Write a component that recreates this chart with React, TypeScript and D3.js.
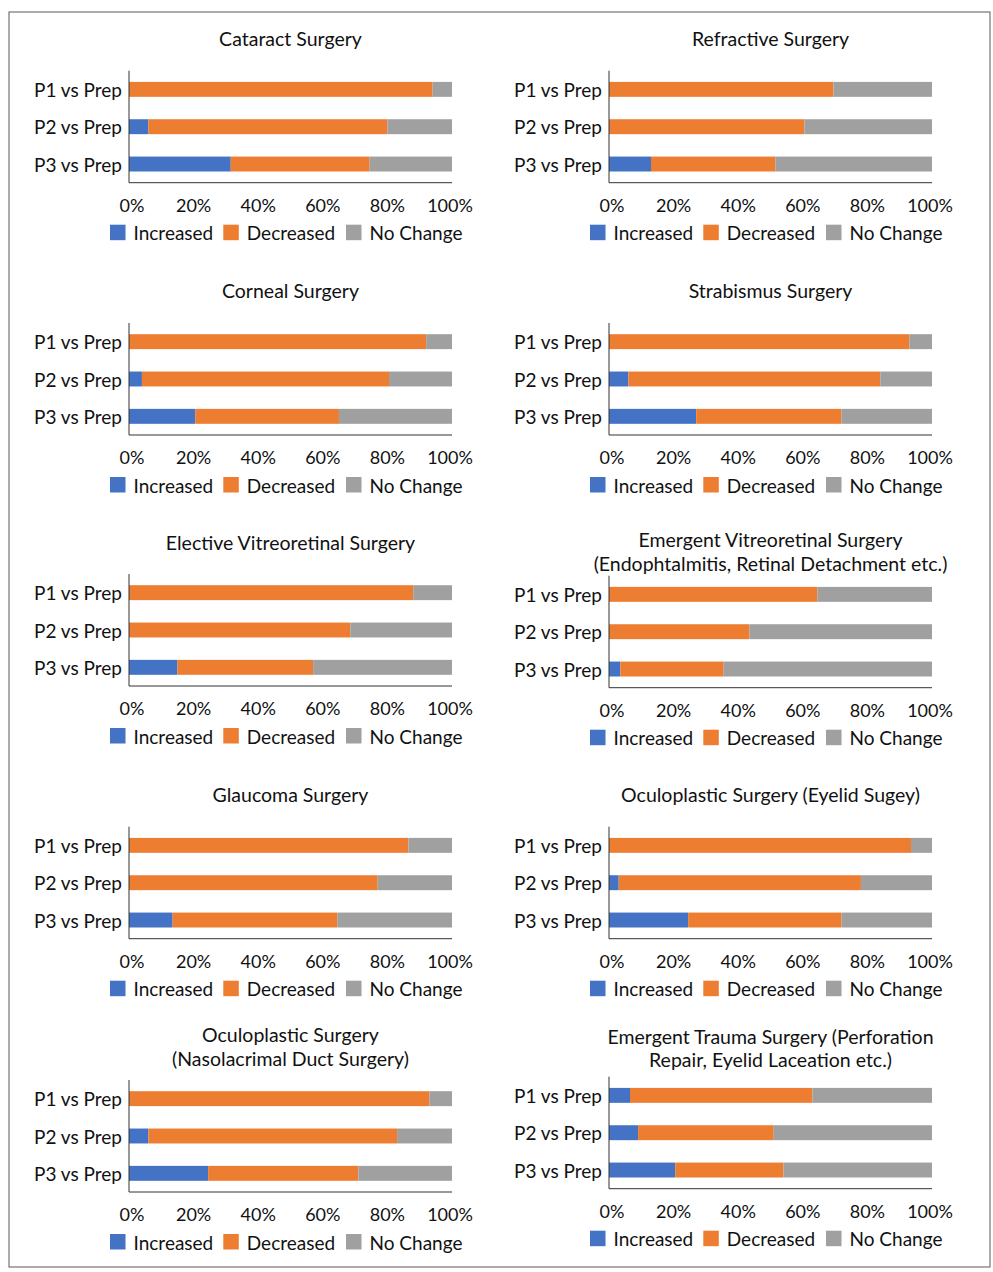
import * as d3 from 'd3';
import { useEffect, useRef } from 'react';

const categories = ['P1 vs Prep', 'P2 vs Prep', 'P3 vs Prep'];
const seriesNames = ['Increased', 'Decreased', 'No Change'];
const tickValues = [0, 20, 40, 60, 80, 100];

const panelTitles = [
  ['Cataract Surgery'],
  ['Refractive Surgery'],
  ['Corneal Surgery'],
  ['Strabismus Surgery'],
  ['Elective Vitreoretinal Surgery'],
  ['Emergent Vitreoretinal Surgery', '(Endophtalmitis, Retinal Detachment etc.)'],
  ['Glaucoma Surgery'],
  ['Oculoplastic Surgery (Eyelid Sugey)'],
  ['Oculoplastic Surgery', '(Nasolacrimal Duct Surgery)'],
  ['Emergent Trauma Surgery (Perforation', 'Repair, Eyelid Laceation etc.)'],
];

// percentages per panel, one entry per category (P1, P2, P3)
const increased = [
  [0, 6, 31.5],
  [0, 0, 13],
  [0, 4, 20.5],
  [0, 6, 27],
  [0, 0, 15],
  [0, 0, 3.5],
  [0, 0, 13.5],
  [0, 3, 24.5],
  [0, 6, 24.5],
  [6.5, 9, 20.5],
];
const decreased = [
  [94, 74, 43],
  [69.5, 60.5, 38.5],
  [92, 76.5, 44.5],
  [93, 78, 45],
  [88, 68.5, 42],
  [64.5, 43.5, 32],
  [86.5, 77, 51],
  [93.5, 75, 47.5],
  [93, 77, 46.5],
  [56.5, 42, 33.5],
];
const noChange = [
  [6, 20, 25.5],
  [30.5, 39.5, 48.5],
  [8, 19.5, 35],
  [7, 16, 28],
  [12, 31.5, 43],
  [35.5, 56.5, 64.5],
  [13.5, 23, 35.5],
  [6.5, 22, 28],
  [7, 17, 29],
  [37, 49, 46],
];

const colors = ['#4472C4', '#ED7D31', '#A0A0A0'];

// layout: top of each plot area and the offsets of the title lines above it
const plotTops = [70.7, 70.7, 323, 323, 574, 575.7, 826.7, 826.7, 1080, 1076.7];
const titleOffsets = [
  [-32],
  [-32],
  [-33],
  [-33],
  [-32],
  [-36, -12],
  [-32],
  [-32],
  [-46, -22],
  [-40, -17],
];

export default function App() {
  const ref = useRef<SVGSVGElement>(null);

  useEffect(() => {
    if (!ref.current) return;
    const svg = d3.select(ref.current);
    svg.selectAll('*').remove();

    const W = 993,
      H = 1272;
    const plotW = 323,
      plotH = 112;
    const colX = [129, 609];
    const font = 'Lato, "Open Sans", sans-serif';

    svg.attr('width', W).attr('height', H);

    // frame
    svg
      .append('rect')
      .attr('x', 9)
      .attr('y', 12)
      .attr('width', 981)
      .attr('height', 1255)
      .attr('fill', 'white')
      .attr('stroke', '#595959')
      .attr('stroke-width', 1);

    const x = d3.scaleLinear().domain([0, 100]).range([0, plotW]);
    const y = d3
      .scaleBand()
      .domain(categories)
      .range([0, plotH])
      .paddingInner(0.6)
      .paddingOuter(0.3);

    panelTitles.forEach((title, i) => {
      const x0 = colX[i % 2];
      const top = plotTops[i];
      const g = svg.append('g').attr('transform', `translate(${x0},${top})`);

      const rows = categories.map((c, j) => ({
        cat: c,
        Increased: increased[i][j],
        Decreased: decreased[i][j],
        'No Change': noChange[i][j],
      }));
      const stacked = d3.stack<any>().keys(seriesNames)(rows);

      // title
      title.forEach((line, k) => {
        g.append('text')
          .text(line)
          .attr('x', plotW / 2)
          .attr('y', titleOffsets[i][k])
          .attr('text-anchor', 'middle')
          .attr('dominant-baseline', 'central')
          .style('font-family', font)
          .style('font-size', '19.5px')
          .attr('fill', '#111');
      });

      // bars
      stacked.forEach((layer, s) => {
        g.append('g')
          .attr('fill', colors[s])
          .selectAll('rect')
          .data(layer)
          .join('rect')
          .attr('x', (d) => x(d[0]))
          .attr('width', (d) => x(d[1]) - x(d[0]))
          .attr('y', (d) => y(d.data.cat) ?? 0)
          .attr('height', y.bandwidth());
      });

      // axes lines
      g.append('line')
        .attr('x1', 0)
        .attr('x2', 0)
        .attr('y1', 0)
        .attr('y2', plotH)
        .attr('stroke', '#333')
        .attr('stroke-width', 1);
      g.append('line')
        .attr('x1', 0)
        .attr('x2', plotW)
        .attr('y1', plotH)
        .attr('y2', plotH)
        .attr('stroke', '#333')
        .attr('stroke-width', 1);

      // category labels
      g.selectAll('text.cat')
        .data(categories)
        .join('text')
        .attr('class', 'cat')
        .text((d) => d)
        .attr('x', -7)
        .attr('y', (d) => (y(d) ?? 0) + y.bandwidth() / 2)
        .attr('text-anchor', 'end')
        .attr('dominant-baseline', 'central')
        .style('font-family', font)
        .style('font-size', '19px')
        .attr('fill', '#111');

      // tick labels
      g.selectAll('text.tick')
        .data(tickValues)
        .join('text')
        .attr('class', 'tick')
        .text((d) => `${d}%`)
        .attr('x', (d) => x(d) + (d === 0 ? 3 : d === 100 ? -2 : 0))
        .attr('y', plotH + 22)
        .attr('text-anchor', 'middle')
        .attr('dominant-baseline', 'central')
        .style('font-family', font)
        .style('font-size', '18px')
        .attr('fill', '#111');

      // legend
      const legendX = [-19, 94.3, 217];
      const lg = g.append('g').attr('transform', `translate(0,${plotH + 50})`);
      seriesNames.forEach((name, s) => {
        lg.append('rect')
          .attr('x', legendX[s])
          .attr('y', -8)
          .attr('width', 15.5)
          .attr('height', 15.5)
          .attr('fill', colors[s]);
        lg.append('text')
          .text(name)
          .attr('x', legendX[s] + 23.5)
          .attr('y', 0)
          .attr('dominant-baseline', 'central')
          .style('font-family', font)
          .style('font-size', '19px')
          .attr('fill', '#111');
      });
    });
  }, []);

  return (
    <svg
      ref={ref}
      style={{ position: 'absolute', left: 0, top: 0, display: 'block' }}
    />
  );
}
